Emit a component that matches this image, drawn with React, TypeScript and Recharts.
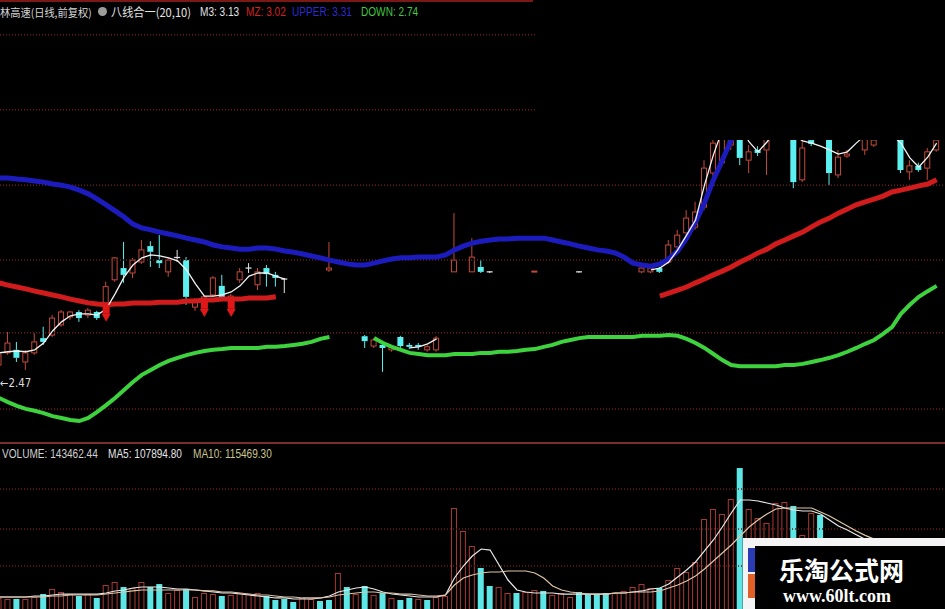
import React from 'react';
import { ComposedChart, Bar, Line, XAxis, YAxis, Scatter, ReferenceLine } from 'recharts';

// ---------- data ----------
const DAY_COUNT = 106;
const days = Array.from({ length: DAY_COUNT }, (_, i) => i);

const candleDay = [
  0, 1, 2, 3, 4, 5, 6, 7, 8, 9, 10, 11, 12, 13, 14, 15, 16, 17, 18, 19, 20, 21, 22, 23, 24, 25, 26, 27, 28, 29, 30, 31, 32,
  37, 41, 42, 43, 44, 45, 46, 47, 48, 49, 51, 53, 54, 55, 60, 65,
  72, 73, 74, 75, 76, 77, 78, 79, 80, 81, 82, 83, 84, 85, 86, 89, 90, 91, 93, 94, 95, 97, 98, 101, 102, 103, 104, 105,
];
const candleOpen = [
  2.526, 2.558, 2.566, 2.534, 2.558, 2.597, 2.605, 2.632, 2.653, 2.666, 2.658, 2.666, 2.690, 2.751, 2.782, 2.769, 2.798, 2.840, 2.803, 2.772, 2.810, 2.803, 2.679, 2.698, 2.711, 2.735, 2.700, 2.751, 2.782, 2.738, 2.782, 2.764, 2.753,
  2.777, 2.602, 2.576, 2.579, 2.566, 2.600, 2.579, 2.579, 2.566, 2.566, 2.772, 2.772, 2.785, 2.772, 2.772, 2.772,
  2.772, 2.772, 2.782, 2.798, 2.838, 2.875, 2.890, 2.943, 3.033, 3.060, 3.107, 3.147, 3.067, 3.094, 3.094, 3.147, 3.015, 3.120, 3.147, 3.028, 3.078, 3.094, 3.107, 3.147, 3.036, 3.052, 3.046, 3.094,
];
const candleHigh = [
  2.561, 2.613, 2.587, 2.566, 2.610, 2.627, 2.658, 2.671, 2.669, 2.671, 2.677, 2.669, 2.746, 2.811, 2.851, 2.809, 2.856, 2.853, 2.869, 2.809, 2.830, 2.811, 2.703, 2.711, 2.761, 2.764, 2.714, 2.782, 2.795, 2.782, 2.790, 2.772, 2.756,
  2.851, 2.605, 2.597, 2.582, 2.579, 2.603, 2.584, 2.584, 2.579, 2.603, 2.927, 2.861, 2.803, 2.774, 2.774, 2.774,
  2.787, 2.787, 2.785, 2.856, 2.883, 2.935, 2.957, 3.067, 3.133, 3.173, 3.213, 3.173, 3.107, 3.104, 3.147, 3.160, 3.120, 3.131, 3.160, 3.094, 3.094, 3.147, 3.133, 3.160, 3.067, 3.060, 3.099, 3.133,
];
const candleLow = [
  2.521, 2.553, 2.534, 2.513, 2.553, 2.579, 2.600, 2.627, 2.645, 2.640, 2.650, 2.645, 2.677, 2.746, 2.743, 2.756, 2.793, 2.785, 2.782, 2.759, 2.798, 2.685, 2.669, 2.693, 2.706, 2.698, 2.695, 2.743, 2.769, 2.724, 2.733, 2.733, 2.716,
  2.772, 2.571, 2.571, 2.508, 2.561, 2.571, 2.568, 2.566, 2.561, 2.561, 2.772, 2.772, 2.769, 2.769, 2.771, 2.770,
  2.769, 2.769, 2.769, 2.793, 2.830, 2.867, 2.883, 2.935, 3.025, 3.052, 3.094, 3.054, 3.033, 3.078, 3.028, 2.993, 3.009, 3.104, 3.001, 3.020, 3.073, 3.081, 3.102, 3.033, 3.015, 3.036, 3.015, 3.089,
];
const candleClose = [
  2.553, 2.584, 2.545, 2.558, 2.587, 2.587, 2.650, 2.666, 2.666, 2.650, 2.671, 2.650, 2.733, 2.809, 2.764, 2.803, 2.830, 2.825, 2.795, 2.803, 2.810, 2.706, 2.698, 2.706, 2.756, 2.703, 2.708, 2.772, 2.782, 2.772, 2.766, 2.756, 2.753,
  2.782, 2.589, 2.592, 2.571, 2.574, 2.576, 2.574, 2.574, 2.574, 2.597, 2.803, 2.811, 2.772, 2.772, 2.774, 2.772,
  2.782, 2.782, 2.772, 2.843, 2.869, 2.914, 2.930, 3.046, 3.112, 3.147, 3.186, 3.073, 3.089, 3.086, 3.126, 3.009, 3.099, 3.110, 3.033, 3.075, 3.083, 3.126, 3.120, 3.041, 3.052, 3.041, 3.089, 3.120,
];

const upperBand = [
  3.020, 3.020, 3.017, 3.015, 3.012, 3.009, 3.004, 3.001, 2.996, 2.988,
  2.978, 2.964, 2.949, 2.933, 2.917, 2.898, 2.888, 2.883, 2.877, 2.872,
  2.867, 2.861, 2.856, 2.851, 2.843, 2.838, 2.835, 2.832, 2.832, 2.835,
  2.835, 2.832, 2.827, 2.824, 2.819, 2.814, 2.809, 2.803, 2.798, 2.793,
  2.790, 2.790, 2.795, 2.801, 2.806, 2.809, 2.809, 2.811, 2.811, 2.811,
  2.817, 2.830, 2.840, 2.848, 2.853, 2.856, 2.859, 2.859, 2.861, 2.861,
  2.861, 2.861, 2.856, 2.851, 2.846, 2.840, 2.835, 2.830, 2.827, 2.822,
  2.811, 2.795, 2.790, 2.787, 2.793, 2.806, 2.827, 2.861, 2.904, 2.954,
  3.015, 3.067, 3.120, 3.170, null, null, null, null, null, null,
  null, null, null, null, null, null, null, null, null, null,
  null, null, null, null, null, null,
];
const midBand = [
  2.743, 2.737, 2.732, 2.727, 2.721, 2.716, 2.711, 2.706, 2.700, 2.695,
  2.690, 2.687, 2.685, 2.687, 2.687, 2.690, 2.690, 2.690, 2.692, 2.692,
  2.692, 2.695, 2.695, 2.698, 2.698, 2.700, 2.700, 2.700, 2.703, 2.703,
  2.703, 2.706, null, null, null, null, null, null, null, null,
  null, null, null, null, null, null, null, null, null, null,
  null, null, null, null, null, null, null, null, null, null,
  null, null, null, null, null, null, null, null, null, null,
  null, null, null, null, 2.708, 2.716, 2.724, 2.732, 2.743, 2.753,
  2.764, 2.774, 2.785, 2.798, 2.809, 2.822, 2.832, 2.846, 2.856, 2.867,
  2.877, 2.891, 2.904, 2.914, 2.927, 2.938, 2.949, 2.957, 2.964, 2.972,
  2.983, 2.988, 2.993, 2.999, 3.004, 3.015,
];
const downBand = [
  2.439, 2.428, 2.418, 2.410, 2.405, 2.399, 2.391, 2.386, 2.381, 2.378,
  2.386, 2.402, 2.420, 2.439, 2.460, 2.481, 2.500, 2.513, 2.526, 2.537,
  2.545, 2.552, 2.558, 2.563, 2.566, 2.568, 2.571, 2.571, 2.571, 2.571,
  2.574, 2.574, 2.576, 2.579, 2.582, 2.587, 2.595, 2.600, null, null,
  null, null, 2.597, 2.584, 2.574, 2.566, 2.558, 2.555, 2.552, 2.552,
  2.552, 2.555, 2.555, 2.555, 2.558, 2.558, 2.561, 2.561, 2.563, 2.566,
  2.568, 2.574, 2.579, 2.587, 2.592, 2.597, 2.600, 2.600, 2.600, 2.600,
  2.600, 2.600, 2.603, 2.603, 2.603, 2.605, 2.603, 2.595, 2.584, 2.571,
  2.555, 2.539, 2.526, 2.523, 2.523, 2.523, 2.523, 2.523, 2.526, 2.526,
  2.529, 2.534, 2.539, 2.545, 2.552, 2.561, 2.571, 2.582, 2.592, 2.608,
  2.626, 2.661, 2.685, 2.706, 2.721, 2.735,
];
const m3Line = [
  2.558, 2.561, 2.563, 2.561, 2.566, 2.584, 2.616, 2.640, 2.656, 2.661,
  2.661, 2.658, 2.674, 2.714, 2.758, 2.790, 2.809, 2.817, 2.814, 2.809,
  2.801, 2.777, 2.740, 2.708, 2.708, 2.711, 2.719, 2.735, 2.761, 2.769,
  2.769, 2.761, 2.753, null, null, null, null, null, null, null,
  null, null, null, null, null, null, 2.571, 2.574, 2.582, 2.595,
  null, null, null, null, null, null, null, null, null, null,
  null, null, null, null, null, null, null, null, null, null,
  null, null, null, 2.777, 2.782, 2.798, 2.830, 2.869, 2.909, 3.001,
  3.081, 3.147, 3.186, 3.160, 3.115, 3.089, 3.115, 3.147, 3.152, 3.133,
  3.118, 3.112, 3.104, 3.094, 3.083, 3.089, 3.112, 3.133, 3.147, 3.152,
  3.133, 3.112, 3.073, 3.049, 3.075, 3.112,
];
const signalDay = [12, 23, 26];
const signalPrice = [2.685, 2.698, 2.698];

const volume = [
  22100, 20600, 20600, 20600, 23500, 27900, 35300, 30900, 27900, 25000,
  27900, 22100, 41200, 45600, 38200, 36800, 45600, 38200, 42600, 29400,
  33800, 35300, 23500, 29400, 27900, 25000, 26500, 29400, 27900, 29400,
  25000, 19100, 20600, 16200, 22100, 20600, 17600, 19100, 58800, 38200,
  27900, 39700, 26500, 29400, 22100, 19100, 22100, 20600, 19100, 23500,
  25000, 154400, 120600, 98500, 66200, 39700, 38200, 29400, 29400, 30900,
  33800, 32400, 26500, 29400, 23500, 30900, 27900, 27900, 29400, 29400,
  32400, 38200, 42600, 36800, 36800, 48500, 66200, 60300, 75000, 138200,
  152900, 145600, 167600, 213200, 152900, 139700, 132400, 161800, 163200, 157400,
  114700, 147100, 144100, 98000, 105000, 92000, 88000, 101000, 95000, 86000,
  90000, 104000, 97000, 93000, 99000, 107000,
];
const volumeUp = [
  1, 1, 0, 1, 1, 0, 1, 1, 1, 0,
  1, 0, 1, 1, 0, 1, 1, 0, 0, 1,
  1, 0, 1, 1, 1, 0, 1, 1, 1, 1,
  0, 0, 0, 0, 1, 1, 0, 0, 1, 0,
  1, 0, 1, 0, 1, 0, 0, 1, 0, 1,
  1, 1, 1, 1, 0, 0, 1, 1, 0, 1,
  1, 0, 1, 1, 1, 0, 0, 0, 0, 1,
  1, 1, 1, 1, 0, 1, 1, 1, 1, 1,
  1, 1, 1, 0, 1, 1, 1, 1, 1, 0,
  1, 1, 0, 0, 1, 1, 1, 1, 1, 1,
  1, 0, 1, 0, 1, 1,
];
const volMa5 = [
  23500, 23500, 23500, 23500, 25000, 25000, 26500, 27900, 27900, 27900,
  27900, 27900, 29400, 32400, 33800, 36800, 38200, 38200, 38200, 36800,
  35300, 35300, 33800, 32400, 30900, 29400, 29400, 27900, 26500, 25000,
  23500, 22100, 22100, 20600, 20600, 20600, 22100, 25000, 30900, 33800,
  36800, 38200, 35300, 30900, 27900, 26500, 25000, 23500, 23500, 23500,
  26500, 51500, 69100, 83800, 94100, 92600, 70600, 48500, 33800, 30900,
  29400, 29400, 29400, 27900, 27900, 27900, 27900, 27900, 27900, 29400,
  29400, 30900, 32400, 35300, 36800, 42600, 52900, 63200, 75000, 91200,
  107400, 126500, 147100, 166200, 166200, 164700, 161800, 158800, 154400, 151500,
  150000, 150000, 145600, 136800, 127900, 122100, 115200, 108300, 102400, 98900,
  96400, 97400, 98800, 99400, 100800, 102900,
];
const volMa10 = [
  23500, 23500, 23500, 23500, 23500, 23500, 25000, 25000, 26500, 26500,
  26500, 26500, 27900, 29400, 30900, 32400, 33800, 33800, 33800, 33800,
  33800, 33800, 33800, 32400, 32400, 30900, 30900, 29400, 27900, 26500,
  26500, 25000, 23500, 23500, 22100, 22100, 22100, 23500, 26500, 27900,
  29400, 30900, 30900, 29400, 29400, 27900, 27900, 26500, 25000, 25000,
  26500, 41200, 51500, 55900, 58800, 60300, 60300, 61800, 61800, 61800,
  58800, 51500, 39700, 33800, 30900, 29400, 27900, 27900, 27900, 29400,
  29400, 30900, 30900, 30900, 32400, 36800, 41200, 47100, 54400, 64700,
  76500, 88200, 100000, 113200, 126500, 136800, 145600, 152900, 154400, 154400,
  154400, 154400, 148500, 142600, 135300, 127900, 120600, 114200, 108700, 105700,
  104200, 103200, 103700, 104200, 105200, 106500,
];

const priceGrid = [3.398, 3.2, 3.001, 2.803, 2.611, 2.41];
const volumeGrid = [182400, 123500, 69100];

const headerParts = [
  { text: '林高速(日线,前复权)', color: '#d6d6d6', left: 0, cjk: true, size: 11 },
  { text: '八线合一(20,10)', color: '#e2e2e2', left: 111, cjk: true, size: 12 },
  { text: 'M3: 3.13', color: '#e2e2e2', left: 200, cjk: false, size: 12 },
  { text: 'MZ: 3.02', color: '#d42222', left: 246, cjk: false, size: 12 },
  { text: 'UPPER: 3.31', color: '#2b2bd0', left: 292, cjk: false, size: 12 },
  { text: 'DOWN: 2.74', color: '#40c840', left: 361, cjk: false, size: 12 },
];
const volumeParts = [
  { text: 'VOLUME: 143462.44', color: '#cfcfcf', left: 2 },
  { text: 'MA5: 107894.80', color: '#e4e4e4', left: 108 },
  { text: 'MA10: 115469.30', color: '#c9c48e', left: 193 },
];
const lowLabel = '←2.47';

// ---------- table ----------
const rows = days.map((i) => {
  const k = candleDay.indexOf(i);
  const s = signalDay.indexOf(i);
  return {
    i,
    o: k >= 0 ? candleOpen[k] : null,
    h: k >= 0 ? candleHigh[k] : null,
    l: k >= 0 ? candleLow[k] : null,
    c: k >= 0 ? candleClose[k] : null,
    upper: upperBand[i],
    mid: midBand[i],
    down: downBand[i],
    m3: m3Line[i],
    sig: s >= 0 ? signalPrice[s] : null,
    vol: volume[i],
    up: volumeUp[i],
    ma5: volMa5[i],
    ma10: volMa10[i],
  };
});

const X_DOMAIN: [number, number] = [0.112, 105.935];
const candleRange = (d: any) => (d.h == null ? null : [d.l, d.h]);

const RED_K = '#c24a3a';
const CYAN_K = '#5cf0f0';
const GRID = '#6a1c1c';

const Candle = (props: any) => {
  const { x, y, width, height, payload } = props;
  if (!payload || payload.h == null || !isFinite(y) || !isFinite(height)) return <g />;
  const { o, c, h, l } = payload;
  const top0 = height >= 0 ? y : y + height;
  const hh = Math.abs(height);
  const span = h - l;
  const k = span > 0 ? hh / span : 0;
  const yOf = (v: number) => top0 + (h - v) * k;
  const cx = x + width / 2;
  const flat = c === o;
  const up = c > o;
  const color = flat ? '#e6e6e6' : up ? RED_K : CYAN_K;
  const bt = yOf(Math.max(o, c));
  const bb = yOf(Math.min(o, c));
  return (
    <g>
      <line x1={cx} x2={cx} y1={top0} y2={bt} stroke={color} strokeWidth={1} />
      <line x1={cx} x2={cx} y1={bb} y2={top0 + hh} stroke={color} strokeWidth={1} />
      {flat ? (
        <line x1={x} x2={x + width} y1={bt} y2={bt} stroke={color} strokeWidth={1.2} />
      ) : up ? (
        <rect x={x + 0.5} y={bt} width={width - 1} height={Math.max(bb - bt, 1)} fill="#000" stroke={color} strokeWidth={1} />
      ) : (
        <rect x={x} y={bt} width={width} height={Math.max(bb - bt, 1.5)} fill={color} />
      )}
    </g>
  );
};

const Signal = (props: any) => {
  const { cx, cy, payload } = props;
  if (!payload || payload.sig == null || !isFinite(cx) || !isFinite(cy)) return <g />;
  return (
    <g>
      <rect x={cx - 3.5} y={cy} width={7} height={9} fill="#e01818" />
      <polygon points={`${cx - 4.5},${cy + 9} ${cx + 4.5},${cy + 9} ${cx},${cy + 17}`} fill="#e01818" />
    </g>
  );
};

const VolBar = (props: any) => {
  const { x, y, width, height, payload } = props;
  if (!payload || !isFinite(y) || !isFinite(height)) return <g />;
  if (payload.up) {
    return <rect x={x + 0.5} y={y + 0.5} width={width - 1} height={height} fill="none" stroke="#a83a34" strokeWidth={1} />;
  }
  return <rect x={x} y={y} width={width} height={height} fill="#5ee6e6" />;
};

const latin = '"Liberation Sans", Arial, sans-serif';

export default function App() {
  return (
    <div
      style={{
        position: 'fixed',
        left: 0,
        top: 0,
        width: 945,
        height: 609,
        background: '#000',
        overflow: 'hidden',
      }}
    >
      {/* price pane */}
      <div style={{ position: 'absolute', left: 0, top: 0 }}>
        <ComposedChart width={945} height={443} data={rows} margin={{ top: 0, right: 0, bottom: 0, left: 0 }}>
          <XAxis type="number" dataKey="i" domain={X_DOMAIN} hide allowDataOverflow />
          <YAxis type="number" domain={[2.32, 3.49]} hide allowDataOverflow />
          {priceGrid.map((g) => (
            <ReferenceLine key={g} y={g} stroke={GRID} strokeWidth={1.5} strokeDasharray="1 2" ifOverflow="hidden" />
          ))}
          <Line dataKey="upper" stroke="#1c1cbe" strokeWidth={5} dot={false} activeDot={false} isAnimationActive={false} />
          <Line dataKey="mid" stroke="#d01c1c" strokeWidth={5} dot={false} activeDot={false} isAnimationActive={false} />
          <Line dataKey="down" stroke="#3ed23e" strokeWidth={4} dot={false} activeDot={false} isAnimationActive={false} />
          <Bar dataKey={candleRange} barSize={6} shape={<Candle />} isAnimationActive={false} />
          <Line dataKey="m3" stroke="#f2f2f2" strokeWidth={1.3} dot={false} activeDot={false} isAnimationActive={false} />
          <Scatter dataKey="sig" shape={<Signal />} isAnimationActive={false} />
        </ComposedChart>
      </div>

      {/* volume pane */}
      <div style={{ position: 'absolute', left: 0, top: 443 }}>
        <ComposedChart width={945} height={170} data={rows} margin={{ top: 0, right: 0, bottom: 0, left: 0 }}>
          <XAxis type="number" dataKey="i" domain={X_DOMAIN} hide allowDataOverflow />
          <YAxis type="number" domain={[0, 250000]} hide allowDataOverflow />
          {volumeGrid.map((g) => (
            <ReferenceLine key={g} y={g} stroke={GRID} strokeWidth={1.5} strokeDasharray="1 2" ifOverflow="hidden" />
          ))}
          <Bar dataKey="vol" barSize={6} shape={<VolBar />} isAnimationActive={false} />
          <Line dataKey="ma5" stroke="#e8e8e8" strokeWidth={1.2} dot={false} activeDot={false} isAnimationActive={false} />
          <Line dataKey="ma10" stroke="#dcc6a8" strokeWidth={1.2} dot={false} activeDot={false} isAnimationActive={false} />
        </ComposedChart>
      </div>

      {/* mask over the upper right of the price pane */}
      <div style={{ position: 'absolute', left: 535, top: 0, width: 410, height: 140, background: '#000' }} />

      {/* frame lines */}
      <div style={{ position: 'absolute', left: 0, top: 0, width: 533, height: 2, background: '#7a1818' }} />
      <div style={{ position: 'absolute', left: 0, top: 442, width: 945, height: 2, background: '#7e2c2c' }} />

      {/* header */}
      {headerParts.map((p) => (
        <div
          key={p.text}
          style={{
            position: 'absolute',
            left: p.left,
            top: 5,
            fontFamily: p.cjk ? '"Noto Sans CJK SC", sans-serif' : latin,
            fontSize: p.size,
            lineHeight: '14px',
            color: p.color,
            whiteSpace: 'nowrap',
            transform: p.cjk ? 'scaleX(0.93)' : 'scaleX(0.84)',
            transformOrigin: 'left center',
          }}
        >
          {p.text}
        </div>
      ))}
      <div
        style={{
          position: 'absolute',
          left: 98,
          top: 7,
          width: 9,
          height: 9,
          borderRadius: '50%',
          background: '#9c9c9c',
        }}
      />

      {/* low marker */}
      <div
        style={{
          position: 'absolute',
          left: 0,
          top: 376,
          fontFamily: '"DejaVu Sans", sans-serif',
          fontSize: 12,
          lineHeight: '14px',
          color: '#dcdcdc',
          whiteSpace: 'nowrap',
          transform: 'scaleX(0.85)',
          transformOrigin: 'left center',
        }}
      >
        {lowLabel}
      </div>

      {/* volume header */}
      {volumeParts.map((p) => (
        <div
          key={p.text}
          style={{
            position: 'absolute',
            left: p.left,
            top: 447,
            fontFamily: latin,
            fontSize: 12,
            lineHeight: '14px',
            color: p.color,
            whiteSpace: 'nowrap',
            transform: 'scaleX(0.84)',
            transformOrigin: 'left center',
          }}
        >
          {p.text}
        </div>
      ))}

      {/* watermark */}
      <div style={{ position: 'absolute', left: 743, top: 538, width: 202, height: 71, background: '#f4f4f4' }} />
      <div style={{ position: 'absolute', left: 748, top: 548, width: 7, height: 24, background: '#2a3cb4' }} />
      <div style={{ position: 'absolute', left: 748, top: 574, width: 7, height: 24, background: '#e0602a' }} />
      <div style={{ position: 'absolute', left: 755, top: 546, width: 190, height: 63, background: '#000' }} />
      <div
        style={{
          position: 'absolute',
          left: 779,
          top: 556,
          fontFamily: '"Noto Sans CJK SC", sans-serif',
          fontWeight: 700,
          fontSize: 25,
          lineHeight: '27px',
          height: 27,
          color: '#ffffff',
          whiteSpace: 'nowrap',
        }}
      >
        乐淘公式网
      </div>
      <div
        style={{
          position: 'absolute',
          left: 783,
          top: 587,
          fontFamily: '"Liberation Serif", "DejaVu Serif", serif',
          fontWeight: 700,
          fontSize: 18,
          lineHeight: '18px',
          color: '#ffffff',
          whiteSpace: 'nowrap',
        }}
      >
        www.60lt.com
      </div>
    </div>
  );
}
